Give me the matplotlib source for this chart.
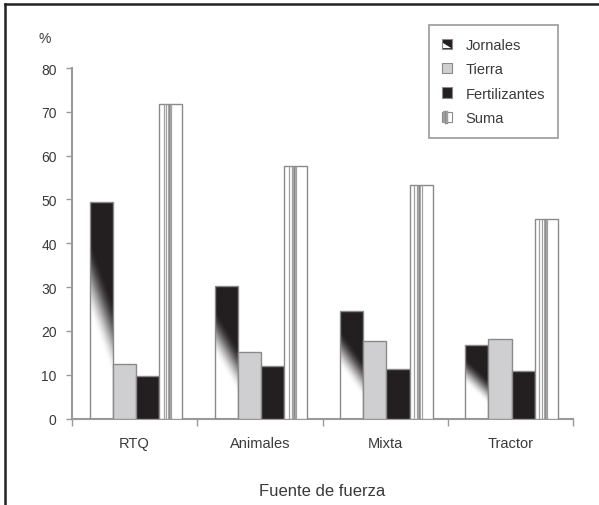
import numpy as np
import matplotlib
matplotlib.use('Agg')
import matplotlib.pyplot as plt
from matplotlib.patches import Rectangle, Polygon
from matplotlib.lines import Line2D
from matplotlib.legend_handler import HandlerBase

# Data
categories = ['RTQ', 'Animales', 'Mixta', 'Tractor']
series = ['Jornales', 'Tierra', 'Fertilizantes', 'Suma']
jornales = [49.5, 30.2, 24.6, 16.8]
tierra = [12.5, 15.3, 17.6, 18.2]
fertilizantes = [9.7, 12.1, 11.3, 10.8]
suma = [71.8, 57.6, 53.3, 45.6]

BLACK = '#231f20'
GREY = '#cfcfd1'
EDGE = '#8a8a8a'
TEXT = '#3a3a3a'

plt.rcParams['font.family'] = ['Liberation Sans', 'DejaVu Sans']

fig = plt.figure(figsize=(5.99, 5.06), dpi=100)
ax = fig.add_axes([72 / 599, 1 - 419.6 / 506, (573 - 72) / 599, (419.6 - 69) / 506])

x = np.arange(len(categories))
w = 0.185
offsets = (np.arange(4) - 1.5) * w + 0.01

# gradient image for the Jornales bars (black top, white bottom, diagonal)
u, v = np.meshgrid(np.linspace(0, 1, 40), np.linspace(0, 1, 200))
t = v + 0.3 * (u - 0.5)
d = np.clip((t - 0.33) / 0.36, 0, 1)
d = d * d * (3 - 2 * d)
blk = np.array(matplotlib.colors.to_rgb(BLACK))
grad = (1 - d)[..., None] * np.ones(3) + d[..., None] * blk

jb = ax.bar(x + offsets[0], jornales, w, facecolor='none', edgecolor=EDGE, linewidth=1.0, zorder=3)
for p in jb:
    im = ax.imshow(grad, extent=[p.get_x(), p.get_x() + p.get_width(), 0, p.get_height()],
                   origin='lower', aspect='auto', zorder=2)
    im.set_clip_path(p)

ax.bar(x + offsets[1], tierra, w, color=GREY, edgecolor=EDGE, linewidth=1.0, zorder=3)
ax.bar(x + offsets[2], fertilizantes, w, color=BLACK, edgecolor=EDGE, linewidth=1.0, zorder=3)
sb = ax.bar(x + offsets[3], suma, w, color='white', edgecolor=EDGE, linewidth=1.0, zorder=3)

# vertical stripes inside the Suma bars
stripes = [(0.2, 0.9, '#a0a0a0'), (0.32, 0.9, '#a0a0a0'), (0.42, 1.8, '#8a8a8a'), (0.52, 0.9, '#a0a0a0')]
for p in sb:
    for f, lw, c in stripes:
        ax.vlines(p.get_x() + f * p.get_width(), 0, p.get_height(), colors=c, linewidth=lw, zorder=4)

ax.set_xlim(-0.5, len(categories) - 0.5)
ax.set_ylim(0, 80)
ax.set_yticks(range(0, 81, 10))
ax.set_xticks(x)
ax.set_xticklabels(categories)
ax.set_xticks(np.arange(len(categories) + 1) - 0.5, minor=True)
ax.tick_params(axis='x', which='major', length=0, pad=12.5, labelsize=10.5, labelcolor=TEXT)
ax.tick_params(axis='x', which='minor', length=5, width=1, color='#999999', direction='out')
ax.tick_params(axis='y', length=4, width=1, color='#999999', direction='out', pad=7,
               labelsize=10, labelcolor=TEXT)
for s in ['top', 'right']:
    ax.spines[s].set_visible(False)
for s in ['left', 'bottom']:
    ax.spines[s].set_color('#9a9a9a')
    ax.spines[s].set_linewidth(1.5)

ax.set_xlabel('Fuente de fuerza', fontsize=12, color=TEXT, labelpad=24)
ax.text(-0.055, 1.085, '%', transform=ax.transAxes, fontsize=10, color=TEXT, ha='center', va='center')


class JornalesHandler(HandlerBase):
    def create_artists(self, legend, orig_handle, xd, yd, width, height, fontsize, trans):
        r = Rectangle((-xd, -yd), width, height, facecolor=BLACK, edgecolor=EDGE, lw=0.8, transform=trans)
        tri = Polygon([(-xd + 0.1 * width, -yd + 0.1 * height), (-xd + 0.9 * width, -yd + 0.1 * height),
                       (-xd + 0.1 * width, -yd + 0.6 * height)], closed=True,
                      facecolor='white', edgecolor='none', transform=trans)
        return [r, tri]


class SumaHandler(HandlerBase):
    def create_artists(self, legend, orig_handle, xd, yd, width, height, fontsize, trans):
        arts = [Rectangle((-xd, -yd), width, height, facecolor='white', edgecolor=EDGE, lw=0.8, transform=trans)]
        for f, lw, c in stripes:
            xx = -xd + f * width
            arts.append(Line2D([xx, xx], [-yd, -yd + height], color=c, lw=lw + 0.6, transform=trans))
        return arts


h_j = Rectangle((0, 0), 1, 1)
h_t = Rectangle((0, 0), 1, 1, facecolor=GREY, edgecolor=EDGE, lw=0.8)
h_f = Rectangle((0, 0), 1, 1, facecolor=BLACK, edgecolor=EDGE, lw=0.8)
h_s = Rectangle((0, 0), 1, 1)
leg = fig.legend([h_j, h_t, h_f, h_s], series, loc='upper right',
                 bbox_to_anchor=(558 / 599, 1 - 26 / 506), bbox_transform=fig.transFigure,
                 borderaxespad=0, fontsize=10.5, frameon=True, fancybox=False,
                 handlelength=0.7, handleheight=0.7, handletextpad=0.9,
                 labelspacing=0.7, borderpad=0.9,
                 handler_map={h_j: JornalesHandler(), h_s: SumaHandler()})
leg.get_frame().set_edgecolor('#8a8a8a')
leg.get_frame().set_linewidth(1.3)
for txt in leg.get_texts():
    txt.set_color(TEXT)

# figure border (top and left)
fig.add_artist(Line2D([5 / 599, 1], [1 - 5 / 506, 1 - 5 / 506], transform=fig.transFigure, color='#222222', lw=1.8))
fig.add_artist(Line2D([5 / 599, 5 / 599], [0, 1 - 5 / 506], transform=fig.transFigure, color='#222222', lw=1.8))

fig.savefig('out.png', dpi=100)
plt.close(fig)
